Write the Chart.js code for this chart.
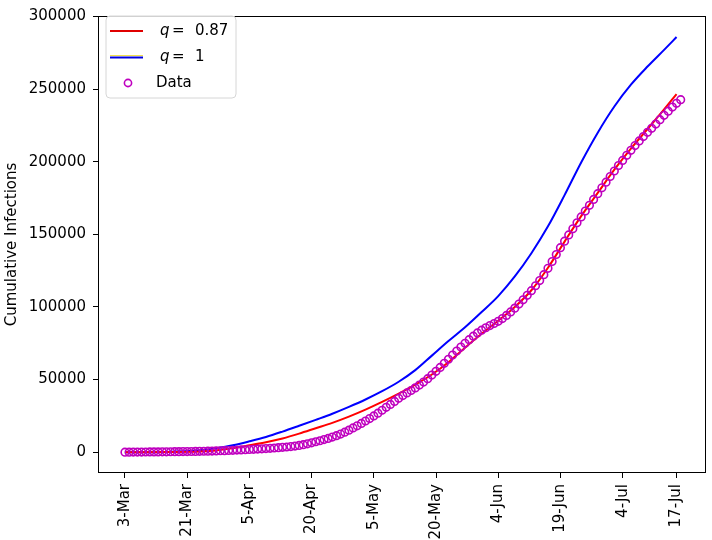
<!DOCTYPE html>
<html>
<head>
<meta charset="utf-8">
<script src="https://cdn.jsdelivr.net/npm/chart.js@4"></script>
<style>
  body { margin: 0; background: #fff; }
  #wrap { width: 712px; height: 540px; }
</style>
</head>
<body>
<div id="wrap"><canvas id="infChart" width="712" height="540"></canvas></div>
<script>
// x positions are day indices counted from 3-Mar
const xTickPos = [0, 15, 30, 45, 60, 75, 90, 105, 120, 133];
const xTickLabels = ['3-Mar', '21-Mar', '5-Apr', '20-Apr', '5-May', '20-May', '4-Jun', '19-Jun', '4-Jul', '17-Jul'];
const yTicks = [0, 50000, 100000, 150000, 200000, 250000, 300000];

// observed cumulative infections, one value per day
const observed = [
    50, 60, 80, 100, 120, 150, 180, 200, 230, 260,
    290, 320, 350, 380, 420, 460, 500, 550, 600, 660,
    730, 810, 900, 1000, 1100, 1200, 1320, 1450, 1580, 1720,
    1870, 2020, 2180, 2350, 2530, 2720, 2920, 3130, 3350, 3600,
    3900, 4250, 4700, 5200, 5800, 6500, 7200, 7900, 8700, 9500,
    10400, 11400, 12500, 13800, 15200, 16700, 18200, 19800, 21500, 23200,
    25000, 26900, 28900, 30900, 32900, 35000, 37100, 39000, 40800, 42500,
    44300, 46200, 48300, 50600, 53100, 55700, 58400, 61200, 64000, 66900,
    69700, 72400, 75000, 77500, 79900, 82100, 84000, 85700, 87200, 88600,
    90100, 92000, 94200, 96600, 99200, 102000, 104900, 108000, 111200, 114600,
    118200, 122200, 126600, 131300, 136100, 140800, 145300, 149600, 153800, 157900,
    162000, 166000, 170000, 174000, 178000, 182000, 185900, 189800, 193600, 197300,
    200900, 204400, 207800, 211100, 214300, 217300, 220200, 223000, 225900, 228900,
    231900, 234800, 237600, 240200, 242700
];

// model curves, q = 0.87 and q = 1
const modelDays = [0, 10, 18, 22, 26, 30, 34, 38, 42, 46, 50, 54, 58, 62, 66, 70, 74, 78, 82, 86, 90, 94, 98, 102, 106, 110, 114, 118, 122, 126, 130, 133];
const fitQ087 = [0, 150, 500, 1200, 2800, 4800, 6900, 9500, 12800, 16500, 20200, 24500, 29300, 34600, 40300, 46500, 53500, 62000, 72000, 81500, 90500, 100000, 111500, 127000, 145000, 162500, 178500, 194500, 209000, 222500, 236000, 246600];
const fitQ1 = [0, 200, 1300, 2800, 4800, 7500, 10500, 14200, 18200, 22300, 26500, 31200, 36300, 42000, 48500, 56500, 66500, 76500, 86000, 96500, 107500, 121000, 137000, 155500, 177000, 199500, 220000, 238000, 253000, 265500, 277000, 285800];

const FONT = 'DejaVu Sans';

const frameAndLegend = {
    id: 'frameAndLegend',
    afterDraw(chart) {
        const ctx = chart.ctx;
        const a = chart.chartArea;
        ctx.save();
        ctx.strokeStyle = '#000';
        ctx.lineWidth = 1;
        ctx.strokeRect(Math.round(a.left) + 0.5, Math.round(a.top) + 0.5,
            Math.round(a.right - a.left) - 1, Math.round(a.bottom - a.top) - 1);

        // legend box
        const bx = 106, by = 16, bw = 130, bh = 82, r = 4;
        ctx.beginPath();
        ctx.moveTo(bx + r, by);
        ctx.arcTo(bx + bw, by, bx + bw, by + bh, r);
        ctx.arcTo(bx + bw, by + bh, bx, by + bh, r);
        ctx.arcTo(bx, by + bh, bx, by, r);
        ctx.arcTo(bx, by, bx + bw, by, r);
        ctx.closePath();
        ctx.fillStyle = 'rgba(255,255,255,0.8)';
        ctx.fill();
        ctx.strokeStyle = '#d6d6d6';
        ctx.stroke();

        const rows = [31, 57, 83];
        ctx.lineWidth = 2;
        ctx.strokeStyle = '#e00000';
        ctx.beginPath(); ctx.moveTo(110, rows[0]); ctx.lineTo(143, rows[0]); ctx.stroke();
        ctx.strokeStyle = '#f2e04a';
        ctx.lineWidth = 1;
        ctx.beginPath(); ctx.moveTo(110, rows[1] - 1.5); ctx.lineTo(143, rows[1] - 1.5); ctx.stroke();
        ctx.lineWidth = 2;
        ctx.strokeStyle = '#0000e0';
        ctx.beginPath(); ctx.moveTo(110, rows[1] + 0.5); ctx.lineTo(143, rows[1] + 0.5); ctx.stroke();
        ctx.lineWidth = 1.6;
        ctx.strokeStyle = '#bf00bf';
        ctx.beginPath(); ctx.arc(128, rows[2], 3.6, 0, Math.PI * 2); ctx.stroke();

        ctx.fillStyle = '#000';
        ctx.textBaseline = 'middle';
        const qLabels = [chart.data.datasets[0].qText, chart.data.datasets[1].qText];
        qLabels.forEach((t, i) => {
            ctx.font = 'italic 15px "' + FONT + '"';
            ctx.fillText('q', 160, rows[i]);
            ctx.font = '15px "' + FONT + '"';
            ctx.fillText('=', 172, rows[i]);
            ctx.fillText(t, 195, rows[i]);
        });
        ctx.font = '15px "' + FONT + '"';
        ctx.fillText(chart.data.datasets[2].label, 156, rows[2]);
        ctx.restore();
    }
};

const ctx = document.getElementById('infChart').getContext('2d');
new Chart(ctx, {
    type: 'scatter',
    data: {
        datasets: [
            {
                label: 'q = 0.87', qText: '0.87',
                data: modelDays.map((d, i) => ({ x: d, y: fitQ087[i] })),
                showLine: true, borderColor: '#ff0000', borderWidth: 2,
                pointRadius: 0, cubicInterpolationMode: 'monotone', order: 1
            },
            {
                label: 'q = 1', qText: '1',
                data: modelDays.map((d, i) => ({ x: d, y: fitQ1[i] })),
                showLine: true, borderColor: '#0000ff', borderWidth: 2,
                pointRadius: 0, cubicInterpolationMode: 'monotone', order: 2
            },
            {
                label: 'Data',
                data: observed.map((v, i) => ({ x: i, y: v })),
                showLine: false, borderColor: '#bf00bf', backgroundColor: 'rgba(0,0,0,0)',
                borderWidth: 1.6, pointRadius: 3.8, order: 0
            }
        ]
    },
    options: {
        responsive: false,
        animation: false,
        layout: { padding: { top: 8, right: 4, left: 0, bottom: 0 } },
        plugins: { legend: { display: false }, tooltip: { enabled: false } },
        scales: {
            x: {
                type: 'linear', min: -6.5, max: 140.2,
                grid: { drawOnChartArea: false, drawTicks: true, tickLength: 5, tickColor: '#000' },
                border: { display: false },
                afterBuildTicks: s => { s.ticks = xTickPos.map(v => ({ value: v })); },
                afterFit: s => { s.height = 67; },
                ticks: {
                    minRotation: 90, maxRotation: 90, padding: 6, color: '#000',
                    font: { family: FONT, size: 15 },
                    callback: v => xTickLabels[xTickPos.indexOf(v)]
                }
            },
            y: {
                min: -14300, max: 300300,
                grid: { drawOnChartArea: false, drawTicks: true, tickLength: 5, tickColor: '#000' },
                border: { display: false },
                afterBuildTicks: s => { s.ticks = yTicks.map(v => ({ value: v })); },
                afterFit: s => { s.width = 98; },
                title: {
                    display: true, text: 'Cumulative Infections', color: '#000',
                    font: { family: FONT, size: 15 }, padding: { top: 3, bottom: 0 }
                },
                ticks: {
                    padding: 7, color: '#000',
                    font: { family: FONT, size: 15 },
                    callback: v => String(v)
                }
            }
        }
    },
    plugins: [frameAndLegend]
});
</script>
</body>
</html>
